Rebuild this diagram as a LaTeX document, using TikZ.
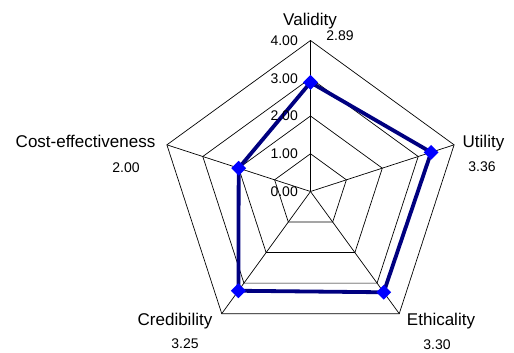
\documentclass[tikz,border=0pt]{standalone}
\usepackage{fontspec}
\setmainfont{Liberation Sans}
\usetikzlibrary{shapes.geometric}
\definecolor{navyline}{RGB}{0,0,128}
\definecolor{markblue}{RGB}{0,0,255}
\def\unitr{37.75}

\begin{document}
\begin{tikzpicture}[x=1pt, y=1pt,
		gridline/.style={line width=0.7pt, color=black},
		dataline/.style={line width=3.8pt, color=navyline, line join=miter},
		datamark/.style={diamond, fill=markblue, inner sep=0pt, minimum size=15pt},
		axislabel/.style={anchor=base, inner sep=0pt, font=\fontsize{17}{20}\selectfont},
		valuelabel/.style={anchor=base, inner sep=0pt, font=\fontsize{14}{16}\selectfont},
		ticklabel/.style={anchor=east, inner sep=0pt, font=\fontsize{14}{16}\selectfont}]
		%%%%% START %%%%%
		
		\useasboundingbox (-310.5, -161.5) rectangle (203.5, 191.5);
		
		\coordinate (centre) at (0, 0);
		
		% spokes
		\foreach \ang in {90, 18, -54, -126, 162}
			\draw[gridline] (centre) -- (\ang:4*\unitr);
		
		% rings
		\foreach \k in {1, 2, 3, 4}
			\draw[gridline] (90:\k*\unitr) -- (18:\k*\unitr) -- (-54:\k*\unitr)
				-- (-126:\k*\unitr) -- (162:\k*\unitr) -- cycle;
		
		% data
		\coordinate (validity) at (90:2.89*\unitr);
		\coordinate (utility) at (18:3.36*\unitr);
		\coordinate (ethicality) at (-54:3.30*\unitr);
		\coordinate (credibility) at (-126:3.25*\unitr);
		\coordinate (costeff) at (162:2.00*\unitr);
		\draw[dataline] (validity) -- (utility) -- (ethicality) -- (credibility) -- (costeff) -- cycle;
		\foreach \pt in {validity, utility, ethicality, credibility, costeff}
			\node[datamark] (mark-\pt) at (\pt) {};
		
		% scale
		\foreach \k in {0, 1, 2, 3, 4}
			\node[ticklabel] (tick-\k) at (-12.5, \k*\unitr) {\k.00};
		
		% axis names and values
		\node[axislabel] (lab-validity) at (-0.5, 165.5) {Validity};
		\node[valuelabel] (val-validity) at (29.5, 150.5) {2.89};
		\node[axislabel] (lab-utility) at (173, 43.5) {Utility};
		\node[valuelabel] (val-utility) at (171.5, 19.5) {3.36};
		\node[axislabel] (lab-ethicality) at (130.5, -133.5) {Ethicality};
		\node[valuelabel] (val-ethicality) at (126.5, -157.5) {3.30};
		\node[axislabel] (lab-credibility) at (-135.5, -133.5) {Credibility};
		\node[valuelabel] (val-credibility) at (-125.5, -156.5) {3.25};
		\node[axislabel] (lab-costeff) at (-225, 43.5) {Cost-effectiveness};
		\node[valuelabel] (val-costeff) at (-184.5, 18.5) {2.00};
		
		%%%%% END %%%%%
	\end{tikzpicture}
\end{document}
